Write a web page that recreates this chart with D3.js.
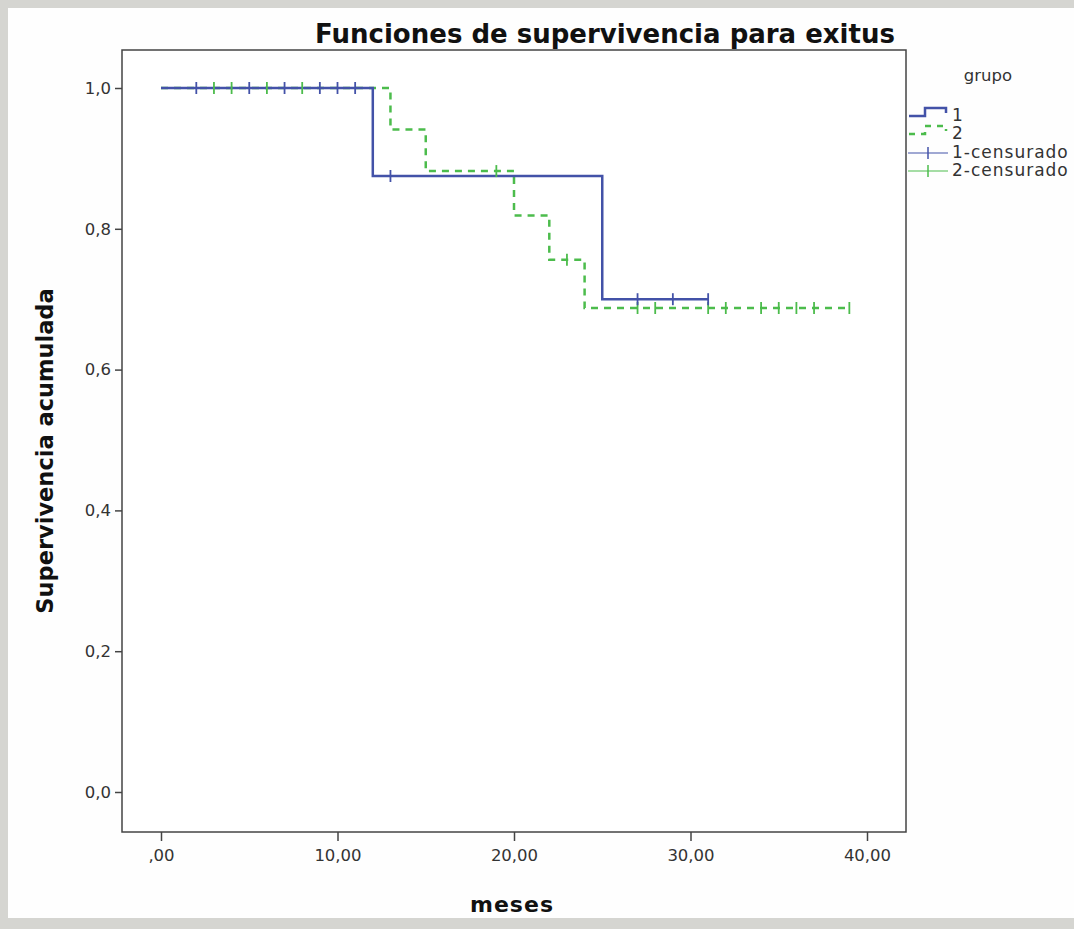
<!DOCTYPE html>
<html><head><meta charset="utf-8">
<script src="https://cdn.jsdelivr.net/npm/d3@7"></script>
<style>body{margin:0;background:#d5d5d1;overflow:hidden}</style>
</head><body><svg id="c" width="1074" height="929"></svg>
<script>
const title = "Funciones de supervivencia para exitus";
const xLabel = "meses";
const yLabel = "Supervivencia acumulada";
const xTicks = [0, 10, 20, 30, 40];
const xTickLabels = [",00", "10,00", "20,00", "30,00", "40,00"];
const yTicks = [0, 0.2, 0.4, 0.6, 0.8, 1.0];
const yTickLabels = ["0,0", "0,2", "0,4", "0,6", "0,8", "1,0"];
const legendTitle = "grupo";
const legendLabels = ["1", "2", "1-censurado", "2-censurado"];
// Kaplan-Meier steps (time, survival)
const g1Times = [0, 12, 25, 31];
const g1Surv = [1.0, 0.875, 0.70, 0.70];
const g1Censor = [2, 5, 7, 9, 10, 11, 13, 27, 29, 31];
const g2Times = [0, 13, 15, 20, 22, 24, 39];
const g2Surv = [1.0, 0.941, 0.882, 0.819, 0.756, 0.6875, 0.6875];
const g2Censor = [3, 4, 6, 8, 19, 23, 27, 28, 31, 32, 34, 35, 36, 37, 39];

const blue = "#4352a8", green = "#4cbc4c";
const svg = d3.select("#c");
svg.append("rect").attr("x", 8).attr("y", 8).attr("width", 1066).attr("height", 910).attr("fill", "#fefefe");

const L = 122, R = 906, T = 50, B = 832;
const x = d3.scaleLinear().domain([-39/17.65, 40 + 39/17.65]).range([L, R]);
const y = d3.scaleLinear().domain([-40/704, 1 + 38/704]).range([B, T]);

svg.append("rect").attr("x", L).attr("y", T).attr("width", R - L).attr("height", B - T)
  .attr("fill", "#fff").attr("stroke", "#444").attr("stroke-width", 1.5);

const font = "DejaVu Sans";
const yAxis = svg.append("g").attr("transform", `translate(${L},0)`)
  .call(d3.axisLeft(y).tickValues(yTicks).tickFormat((d, i) => yTickLabels[i]).tickSize(7).tickPadding(4));
const xAxis = svg.append("g").attr("transform", `translate(0,${B})`)
  .call(d3.axisBottom(x).tickValues(xTicks).tickFormat((d, i) => xTickLabels[i]).tickSize(9).tickPadding(8));
[yAxis, xAxis].forEach(a => {
  a.select(".domain").remove();
  a.selectAll("line").attr("stroke", "#444").attr("stroke-width", 1.5);
  a.selectAll("text").attr("font-family", font).attr("font-size", 16.5).attr("fill", "#333");
});

const line = d3.line().x(d => x(d[0])).y(d => y(d[1])).curve(d3.curveStepAfter);
const g1 = g1Times.map((t, i) => [t, g1Surv[i]]);
const g2 = g2Times.map((t, i) => [t, g2Surv[i]]);
function survAt(times, surv, t) { let s = surv[0]; times.forEach((tt, i) => { if (tt <= t) s = surv[i]; }); return s; }

svg.append("path").attr("d", line(g2)).attr("fill", "none").attr("stroke", green).attr("stroke-width", 2.5).attr("stroke-dasharray", "7,6");
svg.append("path").attr("d", line(g1)).attr("fill", "none").attr("stroke", blue).attr("stroke-width", 2.5);

svg.selectAll(".c2").data(g2Censor).enter().append("line")
  .attr("x1", d => x(d)).attr("x2", d => x(d))
  .attr("y1", d => y(survAt(g2Times, g2Surv, d)) - 6).attr("y2", d => y(survAt(g2Times, g2Surv, d)) + 6)
  .attr("stroke", green).attr("stroke-width", 1.8);
svg.selectAll(".c1").data(g1Censor).enter().append("line")
  .attr("x1", d => x(d)).attr("x2", d => x(d))
  .attr("y1", d => y(survAt(g1Times, g1Surv, d)) - 6).attr("y2", d => y(survAt(g1Times, g1Surv, d)) + 6)
  .attr("stroke", blue).attr("stroke-width", 1.8);

svg.append("text").attr("x", 605).attr("y", 43).attr("text-anchor", "middle")
  .attr("font-family", font).attr("font-weight", "bold").attr("font-size", 26).attr("fill", "#111").text(title);
svg.append("text").attr("x", 512).attr("y", 912).attr("text-anchor", "middle")
  .attr("font-family", font).attr("font-weight", "bold").attr("font-size", 22).attr("letter-spacing", 1).attr("fill", "#111").text(xLabel);
svg.append("text").attr("transform", "translate(53,451) rotate(-90)").attr("text-anchor", "middle")
  .attr("font-family", font).attr("font-weight", "bold").attr("font-size", 22.5).attr("fill", "#111").text(yLabel);

// legend
const lg = svg.append("g");
lg.append("text").attr("x", 988).attr("y", 81).attr("text-anchor", "middle").attr("font-family", font).attr("font-size", 16.5).attr("fill", "#333").text(legendTitle);
const rows = [116, 134, 153, 171];
const colors = [blue, green, blue, green];
legendLabels.forEach((lab, i) => {
  const yy = rows[i];
  if (i < 2) {
    lg.append("path").attr("d", `M909,${yy}H925V${yy-8}H946V${yy-3}`).attr("fill", "none")
      .attr("stroke", colors[i]).attr("stroke-width", 2.5).attr("stroke-dasharray", i === 1 ? "6,6" : null);
  } else {
    lg.append("line").attr("x1", 908).attr("x2", 948).attr("y1", yy).attr("y2", yy).attr("stroke", colors[i]).attr("stroke-width", 1.2);
    lg.append("line").attr("x1", 928).attr("x2", 928).attr("y1", yy - 6).attr("y2", yy + 6).attr("stroke", colors[i]).attr("stroke-width", 1.5);
  }
  lg.append("text").attr("x", 952).attr("y", yy + 5).attr("font-family", font).attr("font-size", 17).attr("letter-spacing", 1).attr("fill", "#333").text(lab);
});
</script></body></html>
